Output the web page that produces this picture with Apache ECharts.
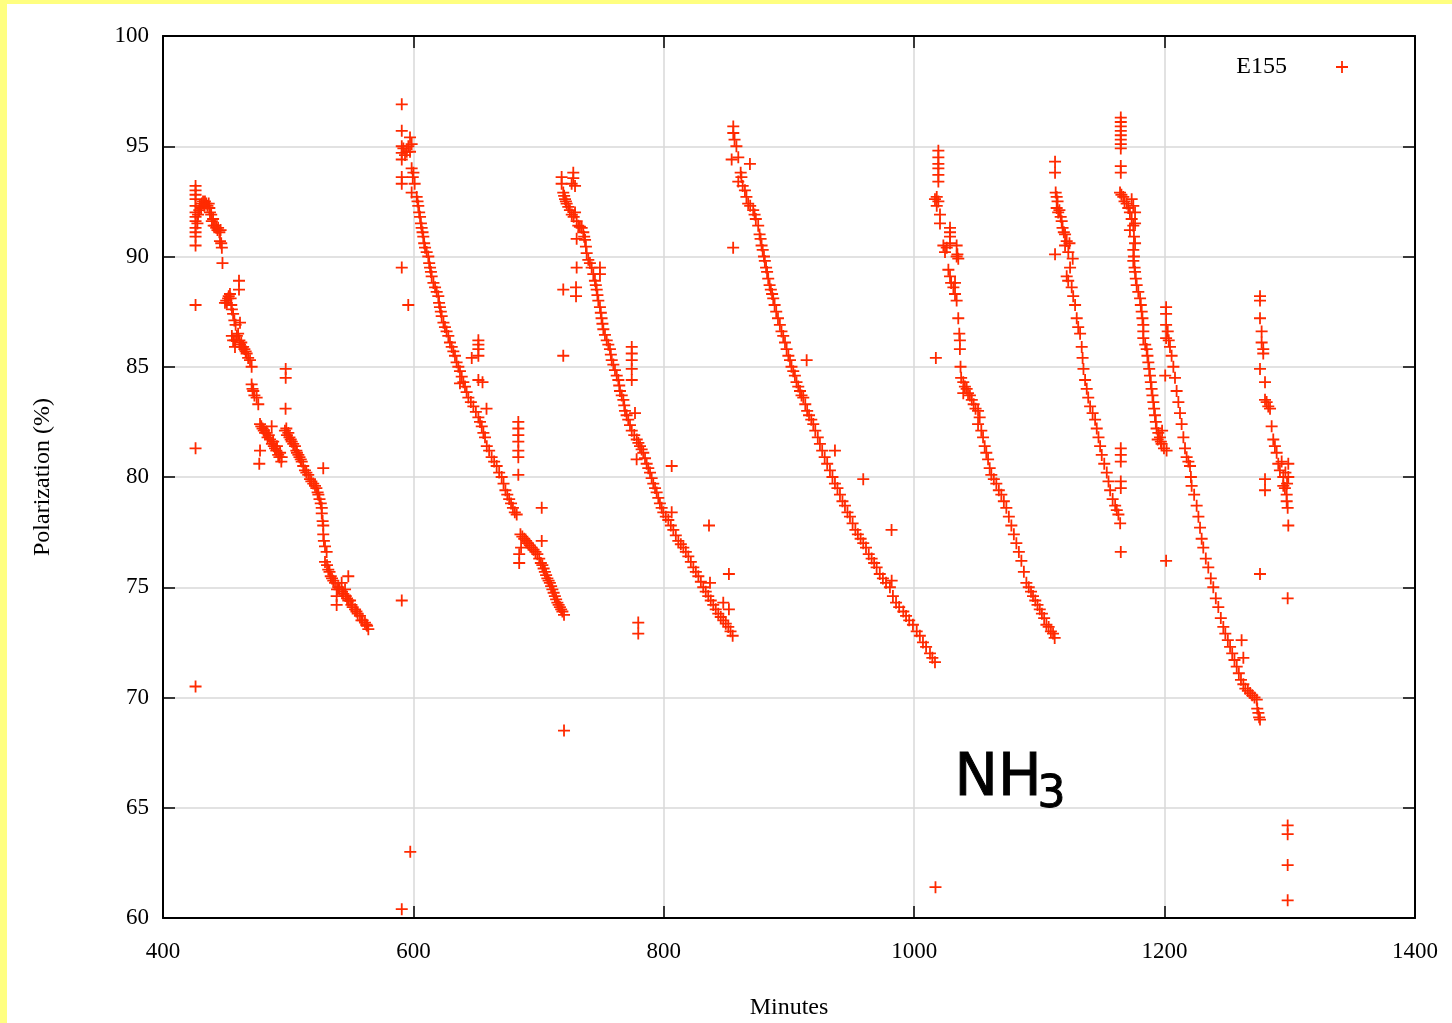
<!DOCTYPE html>
<html><head><meta charset="utf-8">
<script src="https://cdn.jsdelivr.net/npm/echarts/dist/echarts.min.js"></script>
<style>
html,body{margin:0;padding:0;background:#fff;}
#c{position:absolute;left:0;top:0;width:1452px;height:1023px;}
.yb{position:absolute;background:#ffff80;z-index:5;}
</style></head><body>
<div id="c"></div>
<div class="yb" style="left:0;top:0;width:1452px;height:4px"></div>
<div class="yb" style="left:0;top:0;width:7px;height:1023px"></div>
<script>
// axis ranges [min, max, interval]
const xRange = [400, 1400, 200];
const yRange = [60, 100, 5];
const seriesName = 'E155';
const xTitle = 'Minutes';
const yTitle = 'Polarization (%)';

// points [minutes, polarization %], one array per fill cycle
const run1 = [
[426,93.2],[426,93.0],[426,92.8],[426,92.6],[426,92.3],[426,92.0],[426,91.8],[426,91.6],[426,91.3],[426,91.1],[426,90.9],[426,90.5],[426,87.8],[426,81.3],[426,70.5],
[427.5,91.5],[428,91.9],[429,92.1],[429.5,92.3],[430.5,92.2],[431,92.4],[432,92.5],[433,92.3],[433.5,92.5],[434.5,92.4],[435.5,92.3],[436.5,92.4],[437,92.2],[437.5,92.0],[438.5,91.9],[439,91.6],[440,91.7],[440.5,91.4],[441.5,91.4],[442.5,91.3],[443.5,91.2],[444,91.3],[445,91.1],[446,91.2],[445.5,90.7],[446.5,90.6],[447,90.4],[447.5,89.7],
[449.5,87.9],[450.5,88.0],[451,87.9],[452,88.1],[452.5,88.2],[453.5,88.3],[454,88.1],[454.5,87.8],[455,87.6],[456,87.4],[457,87.1],[458,86.9],[460.7,88.9],[460.7,88.5],[461.5,87.0],
[455,86.4],[456,86.2],[457.5,86.2],[457.5,85.9],[459,86.4],[460,86.5],[461,86.2],[461.5,86.0],[462.5,86.1],[463,85.9],[464,85.9],[465,85.8],[466,85.7],[466.8,85.6],[468,85.4],[469.5,85.3],[470.8,85.0],
[470.8,84.2],[471.5,84.0],[472.1,83.9],[473,83.7],[474.8,83.6],[476.1,83.3],
[477.5,82.4],[478.5,82.3],[479.5,82.2],[480.5,82.1],[481.5,82.0],[482.8,82.0],[483.5,81.8],[484.5,81.9],[485.5,81.7],[486.8,82.3],[487,81.5],[488,81.6],[488.5,81.4],[489.5,81.3],[490.5,81.2],[491,81.4],[492,81.0],[493,80.9],[493.5,81.1],[494.5,80.7],[494.8,80.9],[477.5,81.2],[476.9,80.6],
[498,84.9],[498,84.5],[497.9,83.1],
[497.4,82.1],[498.5,82.2],[499,81.9],[500.1,82.0],[501,81.8],[502,81.7],[502.8,81.6],[504,81.5],[505.4,81.4],[506.5,81.2],[507,81.1],[508.1,81.0],[509,80.9],[510,80.8],[510.8,80.7],[512,80.5],[513.4,80.3],[514.5,80.2],[516,80.1],[517.4,79.9],[518.5,79.8],[520,79.7],[521.4,79.6],[522.5,79.5],[523.5,79.3],[524.1,79.2],[525,79.0],[526,78.8],[526.8,78.6],[526.8,78.35],[528,80.4],[527.5,78.0],[528,77.8],[528,77.4],[528.5,77.1],[529.4,76.85],[530.7,76.6],[529.4,76.15],[531,76.0],[532,75.8],[533,75.7],[534,75.5],[535,75.4],[536,75.3],[537.4,75.2],[538.7,74.6],[538.7,74.2],[539,74.9],[540,75.0],[541,74.9],[542.7,75.2],[543,74.8],[544,74.7],[545.4,74.9],[548,75.5],[546,74.6],[547,74.5],[548,74.4],[549.4,74.4],[550.5,74.2],[551.5,74.1],[553.4,74.0],[554.5,73.9],[555.5,73.8],[557.3,73.7],[558.5,73.5],[559.5,73.5],[561.3,73.4],[562.5,73.3],[564,73.1],[563,73.25]
];
const run2 = [
[590.7,96.9],[590.7,95.7],[590.7,95.0],[590.7,94.7],[590.7,94.4],[590.7,93.6],[590.7,93.3],[590.7,89.5],[590.7,74.4],[590.7,60.4],[595.9,87.8],[597.5,63.0],
[592,94.9],[593.3,94.6],[594.7,94.75],[596,95.0],[597.3,95.4],[598.6,95.1],[597.3,94.75],[598.6,94.0],[599.5,93.6],[598.6,92.9],[600,93.8],[601,93.3],
[602.6,92.7],[603.3,92.5],[603.9,92.3],[604.6,92.0],[605.3,91.8],[606,91.5],[606.6,91.3],[607.3,91.1],[607.9,90.9],[608.6,90.6],[609.3,90.4],[610.6,90.2],[611.9,90.0],[612.6,89.7],[613.3,89.5],[614,89.3],[614.6,89.1],[616,88.8],[617.3,88.6],[618.6,88.4],[619.9,88.2],[620.5,87.9],[621.2,87.7],[621.9,87.5],[622.6,87.3],[624,87.0],[625.2,86.8],[626.5,86.6],[627.9,86.4],[629.2,86.1],[630.6,85.9],[631.9,85.7],[633.2,85.5],[634.5,85.2],[635.9,85.0],[637.2,84.8],[638.6,84.55],[639.9,84.3],[641.2,84.1],[642.5,83.85],[643.9,83.6],[645.9,83.4],[647.9,83.2],[649.9,82.95],[651.9,82.7],[653.2,82.5],[654.6,82.3],[655.9,82.0],[657.2,81.8],[658.6,81.4],[660.5,81.2],[662.5,80.9],[664.5,80.7],[666.5,80.5],[668.5,80.2],[670.5,80.0],[672,79.7],[673.5,79.4],[675,79.2],[676.5,79.0],[678,78.8],[679.5,78.6],[681,78.4],[682.5,78.3],
[651.9,86.2],[651.9,86.0],[651.9,85.8],[651.9,85.5],[646.6,85.4],[651.9,84.4],[655.2,84.3],[637.2,84.25],[658.4,83.1],
[683.8,82.5],[683.8,82.2],[683.8,81.9],[683.8,81.6],[683.8,81.2],[683.8,80.9],[683.8,80.1],[684.5,76.5],[684.5,76.1],[686,76.8],
[685.5,77.4],[687,77.3],[688.5,77.2],[690,77.1],[691.5,77.0],[693,76.9],[694.5,76.8],[696,76.7],[697.5,76.6],[699,76.5],[700.5,76.3],[701.8,76.1],[703,76.0],[704,75.85],[705,75.7],[706,75.55],[707,75.4],[708,75.3],[709,75.2],[710,75.05],[711,74.9],[712,74.75],[713,74.6],[714,74.45],[715,74.3],[716,74.2],[717,74.1],[718,74.0],[719,73.9],[720.3,73.75],[702.5,78.6],[702.5,77.1]
];
const run3 = [
[718.4,93.6],[718.4,93.3],[727.7,93.8],[727.7,93.55],[726.4,93.3],[729.1,93.2],[719.7,92.9],[720.4,92.75],[721.1,92.6],[721.8,92.5],[722.4,92.4],[723.7,92.25],[725,92.1],[729.1,92.0],[726.5,91.9],[728,91.8],[730.4,91.6],[731.7,91.4],[733,91.35],[734.4,91.3],[735.7,91.1],[730.4,90.8],[736.4,90.9],[737.1,90.75],[737.8,90.45],[738.4,90.15],[739.7,89.85],[741,89.7],[742.4,89.5],[749,89.5],[749,89.2],[730.4,89.5],[743.7,89.2],[745,88.9],[745.7,88.7],[746.4,88.5],[747,88.25],[747.7,88.0],[749,87.7],[719.7,88.5],[729.9,88.6],[729.9,88.2],
[749.7,87.45],[750.3,87.2],[751,86.95],[751.7,86.7],[753,86.45],[754.4,86.2],[755.7,86.0],[757,85.8],[757.7,85.55],[758.4,85.3],[759.7,85.1],[761,84.85],[762.4,84.6],[763.7,84.4],[764.4,84.15],[765,83.9],[766.4,83.7],[767.7,83.5],[768.4,83.25],[769,83.0],[770.3,82.8],[771.6,82.6],[773,82.35],[774.4,82.1],[776.4,81.9],[778.4,81.7],[779.7,81.55],[781,81.4],[782.3,81.25],[783.6,81.1],[785,80.85],[786.3,80.6],[787.6,80.4],[789,80.2],[790.3,79.95],[791.6,79.7],[793,79.5],[794.3,79.3],[795.6,79.05],[796.9,78.8],[798.3,78.6],[799.6,78.4],[801.6,78.2],[803.6,78.05],[805.6,77.8],[807.6,77.6],[809.6,77.35],[811.6,77.1],[813.6,76.95],[815.6,76.8],[817.6,76.6],[819.6,76.4],[821.6,76.15],[823.6,75.9],[825.6,75.7],[827.6,75.5],[829.6,75.25],[831.5,75.0],[833.5,74.8],[835.5,74.6],[837.5,74.4],[839.5,74.2],[841.5,74.0],[843.5,73.8],[845.5,73.65],[847.5,73.5],[849.5,73.35],[851.5,73.2],[853.3,73.0],[855,72.8],
[719.7,85.5],[774.4,85.9],[774.4,85.6],[774.4,85.3],[774.4,84.9],[774.4,84.4],[777,82.9],[778.3,80.8],[806.3,80.5],[806.3,78.4],[836.1,77.8],[852,75.6],[836.9,75.2],[847.5,74.3],[852,74.0],[779.6,73.4],[779.6,72.9],[720.3,68.5]
];
const run4 = [
[855.5,95.9],[855.5,95.6],[856.5,95.3],[858,95.0],[854.2,94.4],[859.5,94.5],[868.8,94.2],[861.4,93.8],[859.5,93.4],[862,93.6],[863,93.2],[864.8,93.0],[866,92.7],[867.4,92.4],[869,92.3],[871.4,92.1],[872.5,91.9],[873.5,91.7],[875.4,91.4],[876.5,91.0],[877.3,90.8],[878.1,90.5],[879,90.3],[880,90.0],[880.7,89.8],[881.7,89.5],[882.5,89.3],[883.4,89.0],[884.5,88.7],[885.5,88.5],[886.5,88.3],[887.4,88.1],[888.5,87.8],[889.8,87.5],[891.2,87.2],[892.7,86.9],[894,86.6],[895.4,86.4],[896.8,86.1],[898.1,85.8],[899.5,85.5],[900.8,85.3],[902,85.0],[903.4,84.8],[904.7,84.6],[906,84.3],[907.4,84.1],[908.8,83.9],[910,83.7],[911.4,83.6],[913,83.3],[914.5,83.0],[916,82.8],[917.8,82.6],[919.4,82.4],[921,82.1],[923,81.8],[924.7,81.5],[926.5,81.2],[928.5,80.9],[930.5,80.6],[932.7,80.3],[934.7,80.0],[936.7,79.7],[938.7,79.5],[940.7,79.2],[942.7,78.9],[944.7,78.7],[946.7,78.4],[948.7,78.2],[950.8,77.9],[953,77.6],[955,77.4],[957.2,77.2],[959.3,77.0],[961.5,76.8],[963.7,76.5],[966,76.3],[968,76.1],[970,75.9],[972.5,75.6],[975,75.4],[977.5,75.2],[980.6,75.0],[983,74.6],[985.5,74.3],[988,74.1],[991.3,73.9],[993.5,73.7],[996,73.5],[999,73.3],[1002,73.0],[1004.5,72.8],[1007,72.5],[1009.5,72.3],[1012.6,72.0],[1014.5,71.8],[1016.6,71.6],
[855.4,90.4],[914.1,85.3],[936.7,81.2],[959.3,79.9],[981.9,77.6],[982,75.3]
];
const run5 = [
[1019.3,94.8],[1019.3,94.5],[1019.3,94.2],[1019.3,94.0],[1019.3,93.7],[1019.3,93.4],[1016.6,92.6],[1018,92.7],[1019.3,92.5],[1018,92.3],[1020.6,91.9],[1020.6,91.5],[1028.6,91.3],[1028.6,91.1],[1028.6,90.9],[1028.6,90.6],[1023.3,90.5],[1024.6,90.2],[1026,90.4],[1033.9,90.5],[1033.9,90.0],[1035.2,89.9],[1034.5,90.1],[1027.3,89.4],[1028.6,89.1],[1029.5,88.8],[1031.3,88.6],[1032.6,88.8],[1032.6,88.3],[1033.9,88.0],[1035.2,87.2],[1036,86.5],[1036.5,86.2],[1036.5,85.8],[1017.3,85.4],[1037,85.0],[1037.5,84.5],[1039.2,84.3],[1039.2,83.8],[1040.5,84.1],[1041.9,84.0],[1043,83.8],[1044.5,83.7],[1046,83.5],[1047.5,83.3],[1049,83.1],[1051,83.0],[1051,82.4],[1052.3,82.7],[1053.6,82.1],[1055,81.8],[1056.3,81.4],[1057.6,81.1],[1059,80.8],[1060.3,80.4],[1061.6,80.1],[1063.6,79.9],[1065.6,79.7],[1067.6,79.4],[1069.6,79.2],[1071.6,78.9],[1073.6,78.6],[1075.6,78.2],[1077.6,77.8],[1079.6,77.4],[1081.6,77.0],[1083.6,76.6],[1085.6,76.2],[1087.6,75.7],[1089.6,75.2],[1091.5,75.0],[1093.3,74.8],[1094.9,74.6],[1096.7,74.4],[1098.5,74.2],[1100.3,74.0],[1102,73.8],[1103.8,73.6],[1105.6,73.3],[1107.4,73.2],[1109.2,73.0],[1110.9,72.9],[1112.2,72.7],[1017,61.4]
];
const run6 = [
[1112.5,94.3],[1112.5,93.8],[1113,92.9],[1113.8,92.7],[1114.5,92.5],[1113.8,92.2],[1115,92.0],[1116,92.1],[1117,91.8],[1117.8,91.6],[1118.5,91.3],[1119.5,91.1],[1120.5,91.0],[1121.8,90.7],[1120.5,90.5],[1112.5,90.1],[1123.1,90.2],[1124,90.6],[1126.6,89.9],[1124.5,89.5],[1121.8,89.1],[1123,88.9],[1125.8,88.6],[1127,88.2],[1128.5,87.8],[1129.8,87.2],[1131,86.8],[1132.5,86.5],[1133.8,85.9],[1134.5,85.4],[1135.2,84.9],[1136.5,84.4],[1137.8,84.0],[1139,83.6],[1140.5,83.2],[1142.5,82.9],[1144.5,82.6],[1145.8,82.2],[1147.2,81.8],[1148.5,81.4],[1149.8,81.0],[1151.8,80.6],[1153.8,80.2],[1155.2,79.8],[1156.5,79.4],[1158.5,79.0],[1160.5,78.7],[1161.8,78.5],[1163.1,78.3],[1164.5,77.9],
[1165,81.3],[1165,81.0],[1165,80.7],[1165,79.8],[1165,79.5],[1165,76.6]
];
const run7 = [
[1165,96.3],[1165,96.1],[1165,95.9],[1165,95.7],[1165,95.5],[1165,95.3],[1165,95.1],[1165,94.9],[1165,94.1],[1165,93.8],
[1164.4,92.9],[1165.5,92.8],[1167,92.7],[1168,92.5],[1169.7,92.4],[1171,92.2],[1173.7,92.6],[1172.3,92.0],[1175,92.3],[1176.4,92.0],[1173.7,91.7],[1175,91.4],[1172.3,91.2],[1176.4,91.5],[1175.5,90.9],[1176.4,90.6],[1175,90.3],[1175.5,90.0],[1175,89.8],[1176,89.5],[1176.4,89.3],[1177,89.0],[1177.7,88.7],[1179,88.4],[1180.4,88.1],[1181,87.8],[1181.7,87.5],[1182.3,87.2],[1183,86.9],[1183,86.6],[1183,86.3],[1184.5,86.0],[1185.7,85.8],[1186.3,85.5],[1187,85.2],[1187.7,84.9],[1188.3,84.6],[1189,84.3],[1189.6,84.0],[1190.3,83.7],[1191,83.4],[1191.6,83.1],[1192.3,82.8],[1193,82.5],[1193.6,82.2],[1195,82.0],[1196.3,81.8],[1197,81.6],[1197.6,81.5],[1199.5,81.3],[1201.6,81.2],[1194.5,81.7],[1198,82.1]
];
const run8 = [
[1201.2,87.7],[1201.2,87.4],[1201.2,86.9],[1201.2,86.3],[1200.5,84.6],[1202.5,86.6],[1203.3,86.2],[1204.3,85.9],[1205.6,85.5],[1207,85.0],[1208.3,84.5],[1209.6,83.9],[1211,83.4],[1212.3,82.9],[1213.6,82.4],[1215,81.8],[1216.3,81.3],[1217.6,80.9],[1219,80.7],[1220.3,80.5],[1221,80.0],[1221.6,79.6],[1223.6,79.2],[1225.6,78.7],[1227,78.2],[1228.3,77.7],[1229.6,77.2],[1230.9,76.8],[1232.9,76.3],[1234.9,75.9],[1236.9,75.4],[1238.9,75.0],[1240.9,74.5],[1242.9,74.1],[1244.9,73.6],[1246.9,73.2],[1248.5,72.9],[1250.5,72.6],[1252.3,72.3],[1254,72.0],[1255.8,71.7],[1257.6,71.4],[1259.3,71.1],[1261,70.8],[1262.9,70.6],[1264.5,70.4],[1266.5,70.3],[1268.3,70.2],[1270,70.1],[1271.8,70.0],[1273.6,69.9],[1274.9,69.3],[1275.5,69.1],[1276.2,69.0],[1274,69.5],
[1261.5,72.6],[1262.9,71.8],[1201.2,76.2]
];
const run9 = [
[1276.2,88.2],[1276.2,88.0],[1276.2,87.2],[1277.5,86.6],[1277.5,86.1],[1278.8,85.8],[1278.8,85.6],[1276.2,84.9],[1280.2,84.3],[1280.2,83.5],[1281.5,83.4],[1282.8,83.2],[1284.2,83.1],[1285.5,82.3],[1286.8,81.7],[1288.1,81.4],[1289.5,81.1],[1290.8,80.6],[1292.1,80.3],[1293.5,80.7],[1294.8,80.0],[1294.8,79.6],[1296.1,79.5],[1297.5,79.2],[1297.5,78.9],[1298.3,78.6],[1298.8,77.8],[1298.8,80.6],[1298.8,80.0],[1296.5,80.2],[1297.8,79.7],
[1280.2,79.9],[1280.2,79.4],[1276.2,75.6],[1298.3,74.5],[1298.3,64.2],[1298.3,63.8],[1298.3,62.4],[1298.3,60.8]
];

const allPoints = [].concat(run1, run2, run3, run4, run5, run6, run7, run8, run9);

const plusPath = 'path://M0,5.1H12V6.9H0ZM5.1,0H6.9V12H5.1Z';
const red = '#ff2a00';
const serif = 'Liberation Serif';

const chart = echarts.init(document.getElementById('c'), null, {renderer: 'canvas'});
const axisLineStyle = {color: '#000', width: 2};
const tickStyle = {show: true, inside: true, length: 12, lineStyle: {color: '#000', width: 1.5}};
const gridLine = {show: true, lineStyle: {color: '#d9d9d9', width: 1.5}};
const plainNum = v => String(v);
chart.setOption({
  animation: false,
  backgroundColor: '#fff',
  grid: {left: 163, right: 37, top: 36, bottom: 105, containLabel: false, outerBoundsMode: 'none'},
  xAxis: [{
    type: 'value', min: xRange[0], max: xRange[1], interval: xRange[2], position: 'bottom',
    axisLine: {show: true, onZero: false, lineStyle: axisLineStyle},
    axisTick: tickStyle,
    axisLabel: {margin: 22, fontFamily: serif, fontSize: 23, color: '#000', formatter: plainNum},
    splitLine: gridLine,
    name: xTitle, nameLocation: 'middle', nameGap: 78,
    nameTextStyle: {fontFamily: serif, fontSize: 24, color: '#000'}
  }, {
    type: 'value', min: xRange[0], max: xRange[1], interval: xRange[2], position: 'top',
    axisLine: {show: true, onZero: false, lineStyle: axisLineStyle},
    axisTick: tickStyle, axisLabel: {show: false}, splitLine: {show: false}
  }],
  yAxis: [{
    type: 'value', min: yRange[0], max: yRange[1], interval: yRange[2], position: 'left',
    axisLine: {show: true, onZero: false, lineStyle: axisLineStyle},
    axisTick: tickStyle,
    axisLabel: {margin: 14, fontFamily: serif, fontSize: 23, color: '#000', formatter: plainNum},
    splitLine: gridLine,
    name: yTitle, nameLocation: 'middle', nameGap: 108, nameRotate: 90,
    nameTextStyle: {fontFamily: serif, fontSize: 24, color: '#000'}
  }, {
    type: 'value', min: yRange[0], max: yRange[1], interval: yRange[2], position: 'right',
    axisLine: {show: true, onZero: false, lineStyle: axisLineStyle},
    axisTick: tickStyle, axisLabel: {show: false}, splitLine: {show: false}
  }],
  legend: {
    show: true, right: 104, top: 55, padding: 0, align: 'right',
    itemWidth: 12, itemHeight: 12,
    data: [{name: seriesName, icon: plusPath}],
    textStyle: {fontFamily: serif, fontSize: 24, color: '#000', padding: [0, 44, 0, 0]}
  },
  graphic: [
    {type: 'text', left: 954, top: 750, z: 10,
     style: {text: 'NH', font: '58px "DejaVu Sans"', fill: '#000', stroke: '#000', lineWidth: 1}},
    {type: 'text', left: 1037, top: 773, z: 10,
     style: {text: '3', font: '44px "DejaVu Sans"', fill: '#000', stroke: '#000', lineWidth: 1}}
  ],
  series: [{
    name: seriesName, type: 'scatter', xAxisIndex: 0, yAxisIndex: 0,
    symbol: plusPath, symbolSize: 12,
    itemStyle: {color: red, opacity: 1},
    emphasis: {disabled: true},
    data: allPoints
  }]
});
</script>
</body></html>
